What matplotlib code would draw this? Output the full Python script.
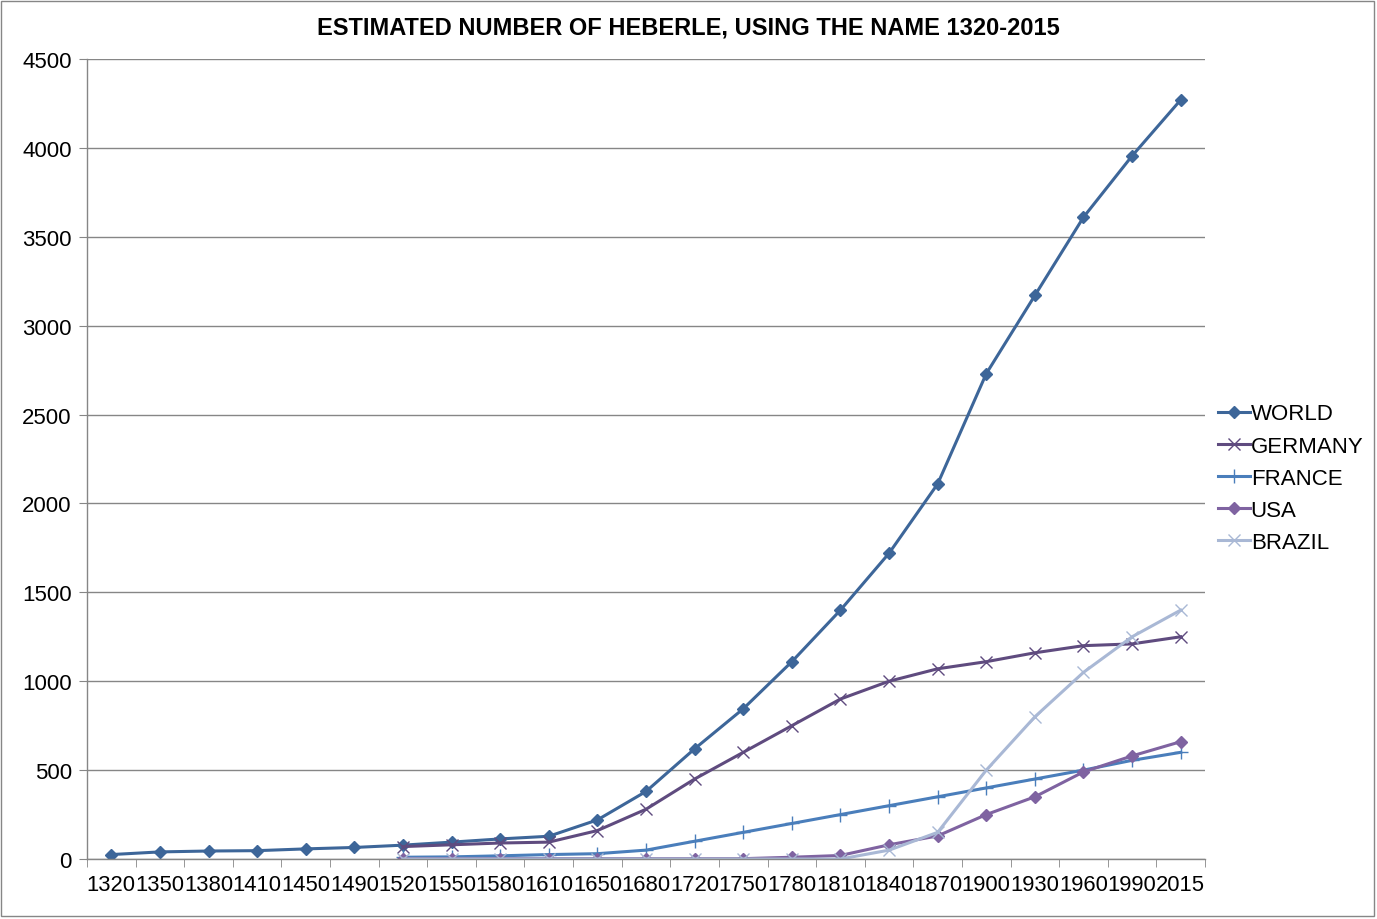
import numpy as np
import matplotlib.pyplot as plt
from matplotlib.patches import Rectangle

plt.rcParams['font.family'] = ['Liberation Sans', 'DejaVu Sans']

# ------------ Data ---------------
years = ['1320', '1350', '1380', '1410', '1450', '1490', '1520', '1550',
         '1580', '1610', '1650', '1680', '1720', '1750', '1780', '1810',
         '1840', '1870', '1900', '1930', '1960', '1990', '2015']

world = [25, 40, 45, 47, 57, 65, 78, 95, 113, 128, 220, 380, 620, 845,
         1110, 1400, 1720, 2110, 2730, 3170, 3610, 3955, 4270]
# the country series start at 1520
germany = [70, 80, 90, 95, 160, 280, 450, 600, 750, 900, 1000, 1070,
           1110, 1160, 1200, 1210, 1250]
france = [10, 12, 18, 25, 30, 50, 100, 150, 200, 250, 300, 350, 400,
          450, 500, 555, 600]
usa = [2, 2, 2, 2, 2, 2, 2, 2, 10, 20, 80, 130, 250, 350, 490, 580, 660]
brazil = [0, 0, 0, 0, 0, 0, 0, 0, 0, 0, 50, 150, 500, 800, 1050, 1250, 1400]

x_all = np.arange(len(years))
x_late = x_all[len(years) - len(germany):]

# ------------ Plot ---------------
fig = plt.figure(figsize=(13.77, 9.2), dpi=100)
ax = fig.add_axes([0.0632, 0.0652, 0.8119, 0.8696])

series = [
    ('WORLD', x_all, world, '#3D6699', 'D', 6.5),
    ('GERMANY', x_late, germany, '#5F4B7F', 'x', 8),
    ('FRANCE', x_late, france, '#4A7EBB', '+', 10),
    ('USA', x_late, usa, '#7F63A1', 'D', 6.5),
    ('BRAZIL', x_late, brazil, '#A9B8D5', 'x', 8),
]
for name, xs, ys, col, mk, ms in series:
    ax.plot(xs, ys, color=col, lw=2.2, marker=mk, ms=ms, mew=1.0,
            mec=col, mfc=col, label=name, solid_joinstyle='round')

ax.set_xlim(-0.5, len(years) - 0.5)
ax.set_ylim(0, 4500)
ax.set_yticks(np.arange(0, 4501, 500))
ax.set_xticks(x_all)
ax.set_xticklabels(years)
ax.set_xticks(np.arange(-0.5, len(years), 1.0), minor=True)
ax.tick_params(axis='x', which='major', length=0, labelsize=15.8, pad=11)
ax.tick_params(axis='x', which='minor', length=6, color='#868686')
ax.tick_params(axis='y', length=6, color='#868686', labelsize=16, pad=5)

ax.grid(axis='y', color='#868686', lw=1)
ax.set_axisbelow(True)
for s in ['top', 'right']:
    ax.spines[s].set_visible(False)
for s in ['left', 'bottom']:
    ax.spines[s].set_color('#868686')
    ax.spines[s].set_linewidth(1)

# title is centred on the whole chart, not on the plot area
fig.text(0.5, 0.970, 'ESTIMATED NUMBER OF HEBERLE, USING THE NAME 1320-2015',
         ha='center', va='center', fontsize=17, fontweight='bold')

ax.legend(loc='center left', bbox_to_anchor=(1.012, 0.476), frameon=False,
          fontsize=16, handlelength=1.4, handletextpad=0.05,
          labelspacing=0.5, borderaxespad=0, borderpad=0)

# light border round the whole chart area
fig.patches.append(Rectangle((0.001, 0.003), 0.997, 0.995,
                             transform=fig.transFigure, fill=False,
                             edgecolor='#868686', lw=1))

fig.savefig('out.png', dpi=100)
